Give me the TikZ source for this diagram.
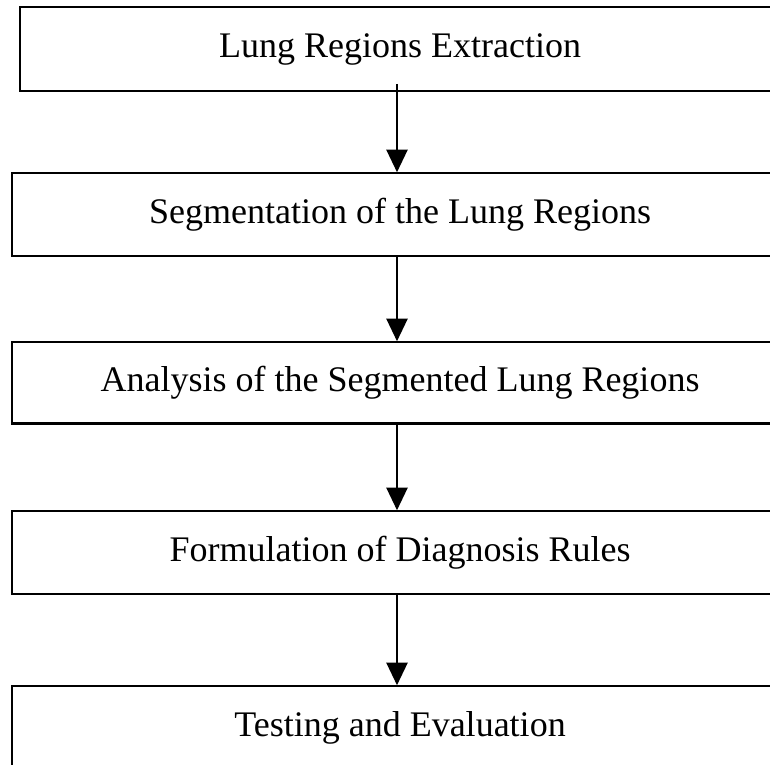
\documentclass[tikz,border=0pt]{standalone}
\usepackage{fontspec}
\setmainfont{Liberation Serif}
\usetikzlibrary{arrows.meta}
\begin{document}
\begin{tikzpicture}[x=0.75pt,y=-0.75pt,
  stagebox/.style={draw=black, line width=1.2pt, inner sep=0pt, minimum width=582pt, minimum height=62.25pt, font=\fontsize{27}{32}\selectfont},
  flowarrow/.style={draw=black, line width=1.2pt, -{Triangle[length=17pt,width=16pt]}}]
\useasboundingbox (0,0) rectangle (770,764);
\fill[white] (0,0) rectangle (770,764);
\clip (0,0) rectangle (770,764);
\node[stagebox, minimum width=570pt, minimum height=63pt] (b1) at (400,49) {Lung Regions Extraction};
\node[stagebox] (b2) at (400,214.5) {Segmentation of the Lung Regions};
\node[stagebox, minimum height=60.75pt] (b3) at (400,382.5) {Analysis of the Segmented Lung Regions};
\node[stagebox] (b4) at (400,552.5) {Formulation of Diagnosis Rules};
\node[stagebox] (b5) at (400,727.5) {Testing and Evaluation};
\draw[line width=2pt] (b3.south west) -- (b3.south east);
\draw[flowarrow] ([xshift=-2.25pt,yshift=6pt]b1.south) -- ([xshift=-2.25pt]b2.north);
\draw[flowarrow] ([xshift=-2.25pt]b2.south) -- ([xshift=-2.25pt]b3.north);
\draw[flowarrow] ([xshift=-2.25pt]b3.south) -- ([xshift=-2.25pt]b4.north);
\draw[flowarrow] ([xshift=-2.25pt]b4.south) -- ([xshift=-2.25pt]b5.north);
\end{tikzpicture}
\end{document}
